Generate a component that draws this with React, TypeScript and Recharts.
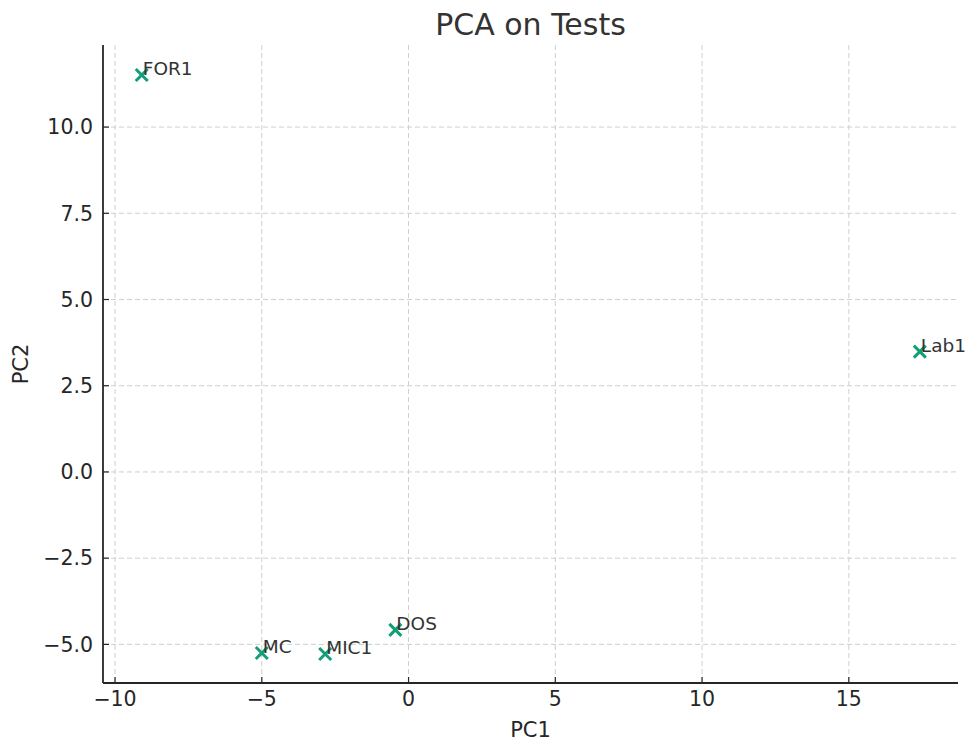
import React from 'react';
import { ScatterChart, Scatter, XAxis, YAxis, CartesianGrid } from 'recharts';

const names = ['FOR1', 'Lab1', 'DOS', 'MC', 'MIC1'];
const pc1 = [-9.09, 17.42, -0.45, -5.0, -2.84];
const pc2 = [11.51, 3.49, -4.58, -5.25, -5.28];

const xTicks = [-10, -5, 0, 5, 10, 15];
const yTicks = [-5, -2.5, 0, 2.5, 5, 7.5, 10];

const points = names.map((name, i) => ({ name, x: pc1[i], y: pc2[i] }));

const minus = (s: string) => s.replace('-', '\u2212');

const GREEN = '#129e77';
const INK = '#262626';

const XMark = (props: any) => {
  const { cx, cy, payload } = props;
  const s = 6;
  return (
    <g>
      <path
        d={`M${cx - s},${cy - s}L${cx + s},${cy + s}M${cx - s},${cy + s}L${cx + s},${cy - s}`}
        stroke={GREEN}
        strokeWidth={3}
        fill="none"
      />
      <text x={cx + 1} y={cy} fontSize={18.5} fill="#333">
        {payload.name}
      </text>
    </g>
  );
};

export default function App() {
  return (
    <div
      style={{
        position: 'absolute',
        left: 0,
        top: 0,
        width: 966,
        height: 742,
        background: '#fff',
        fontFamily: '"DejaVu Sans", sans-serif',
      }}
    >
      <div
        style={{
          position: 'absolute',
          left: 103,
          width: 855,
          top: 10,
          textAlign: 'center',
          fontSize: 30,
          lineHeight: '30px',
          color: '#333',
        }}
      >
        PCA on Tests
      </div>
      <ScatterChart width={966} height={742} margin={{ top: 45, right: 8, bottom: 0, left: 23 }}>
        <CartesianGrid
          stroke="#cfcfcf"
          strokeDasharray="5 3"
          strokeWidth={1}
          horizontalValues={yTicks}
          verticalValues={xTicks}
        />
        <XAxis
          type="number"
          dataKey="x"
          domain={[-10.41, 18.72]}
          ticks={xTicks}
          height={59}
          tickFormatter={(v: number) => minus(String(v))}
          tick={{ fontSize: 20.5, fill: INK }}
          tickSize={-6}
          tickMargin={14}
          tickLine={{ stroke: INK, strokeWidth: 1.2 }}
          axisLine={{ stroke: INK, strokeWidth: 1.8 }}
          label={{ value: 'PC1', position: 'insideBottom', offset: 5, fontSize: 21, fill: INK }}
        />
        <YAxis
          type="number"
          dataKey="y"
          domain={[-6.12, 12.38]}
          ticks={yTicks}
          width={80}
          tickFormatter={(v: number) => minus(v.toFixed(1))}
          tick={{ fontSize: 20.5, fill: INK }}
          tickSize={-6}
          tickMargin={16}
          tickLine={{ stroke: INK, strokeWidth: 1.2 }}
          axisLine={{ stroke: INK, strokeWidth: 1.8 }}
          label={{
            value: 'PC2',
            angle: -90,
            position: 'insideLeft',
            offset: -2,
            fontSize: 21,
            fill: INK,
            style: { textAnchor: 'middle' },
          }}
        />
        <Scatter data={points} shape={XMark} isAnimationActive={false} />
      </ScatterChart>
    </div>
  );
}
